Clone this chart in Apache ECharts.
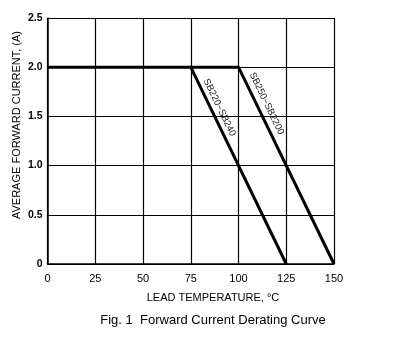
<!DOCTYPE html>
<html><head><meta charset="utf-8">
<script src="https://cdn.jsdelivr.net/npm/echarts@6/dist/echarts.min.js"></script>
<style>html,body{margin:0;padding:0;background:#fff}#c{width:405px;height:339px}</style>
</head><body><div id="c"></div>
<script>
const xTicks = [0, 25, 50, 75, 100, 125, 150];
const yTicks = [0, 0.5, 1.0, 1.5, 2.0, 2.5];
const seriesNames = ['SB220~SB240', 'SB250~SB2200'];
const sb220Temp = [0, 75, 125];
const sb220Current = [2.0, 2.0, 0];
const sb250Temp = [75, 100, 150];
const sb250Current = [2.0, 2.0, 0];
const labelPos = [[90, 1.59], [114.7, 1.63]];

const chart = echarts.init(document.getElementById('c'), null, {renderer: 'canvas'});
const font = 'Liberation Sans, Arial, sans-serif';
chart.setOption({
  animation: false,
  backgroundColor: '#fff',
  grid: {left: 47.5, right: 71, top: 18, bottom: 75},
  xAxis: {
    type: 'value', min: 0, max: 150, interval: 25,
    axisLine: {lineStyle: {color: '#000', width: 1.5}},
    axisTick: {show: false},
    splitLine: {show: true, lineStyle: {color: '#000', width: 1.2}},
    axisLabel: {color: '#000', fontFamily: font, fontSize: 11, margin: 9,
      formatter: v => xTicks.includes(v) ? String(v) : ''}
  },
  yAxis: {
    type: 'value', min: 0, max: 2.5, interval: 0.5,
    axisLine: {show: true, lineStyle: {color: '#000', width: 1.5}},
    axisTick: {show: false},
    splitLine: {show: true, lineStyle: {color: '#000', width: 1.2}},
    axisLabel: {color: '#000', fontFamily: font, fontSize: 10.5, fontWeight: 'bold', margin: 5,
      formatter: v => { const t = yTicks.find(y => Math.abs(y - v) < 1e-9); return t === undefined ? '' : (t === 0 ? '0' : t.toFixed(1)); }}
  },
  series: [
    {name: seriesNames[0], type: 'line', symbol: 'none', lineStyle: {color: '#000', width: 3},
      data: sb220Temp.map((t, i) => [t, sb220Current[i]])},
    {name: seriesNames[1], type: 'line', symbol: 'none', lineStyle: {color: '#000', width: 3},
      data: sb250Temp.map((t, i) => [t, sb250Current[i]])}
  ]
});

const p1 = chart.convertToPixel({gridIndex: 0}, [sb220Temp[1], sb220Current[1]]);
const p2 = chart.convertToPixel({gridIndex: 0}, [sb220Temp[2], sb220Current[2]]);
const ang = Math.atan2(p2[1] - p1[1], p2[0] - p1[0]);
const labels = seriesNames.map((n, i) => {
  const p = chart.convertToPixel({gridIndex: 0}, labelPos[i]);
  return {type: 'text', x: p[0], y: p[1], rotation: -ang,
    style: {text: n, fill: '#222', font: '9.5px ' + font, align: 'center', verticalAlign: 'middle'}};
});
chart.setOption({graphic: labels.concat([
  {type: 'text', x: 17, y: 125, rotation: Math.PI / 2,
    style: {text: 'AVERAGE FORWARD CURRENT, (A)', fill: '#000', font: '11px ' + font, align: 'center', verticalAlign: 'middle'}},
  {type: 'text', x: 213, y: 298,
    style: {text: 'LEAD TEMPERATURE, °C', fill: '#000', font: '11px ' + font, align: 'center', verticalAlign: 'middle'}},
  {type: 'text', x: 213, y: 320,
    style: {text: 'Fig. 1  Forward Current Derating Curve', fill: '#000', font: '13px ' + font, align: 'center', verticalAlign: 'middle'}}
])});
</script></body></html>
